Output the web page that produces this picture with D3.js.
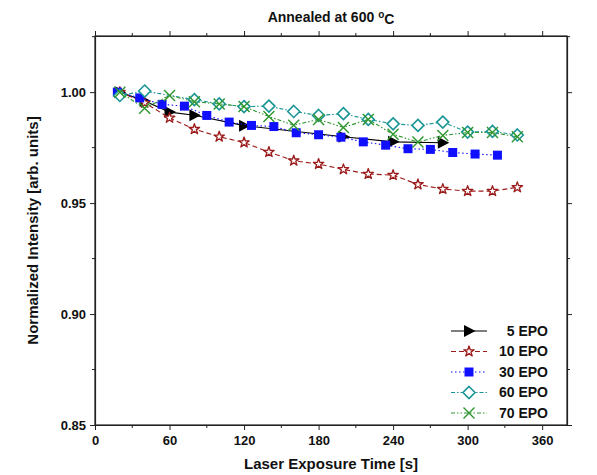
<!DOCTYPE html>
<html>
<head>
<meta charset="utf-8">
<script src="https://cdn.jsdelivr.net/npm/d3@7"></script>
<style>
  body { margin: 0; background: #fff; }
  text { font-family: Arial, "Liberation Sans", sans-serif; font-weight: bold; fill: #111; }
</style>
</head>
<body>
<div id="chart"></div>
<script>
// data
var t5 = [20, 40, 60, 80, 120, 200, 240, 280];
var v5 = [1.000, 0.9960, 0.9910, 0.9896, 0.9849, 0.9799, 0.9776, 0.9772];

var t10 = [20, 40, 60, 80, 100, 120, 140, 160, 180, 200, 220, 240, 260, 280, 300, 320, 340];
var v10 = [1.000, 0.9952, 0.9884, 0.9833, 0.9799, 0.9773, 0.9730, 0.9691, 0.9676, 0.9652,
           0.9631, 0.9626, 0.9584, 0.9563, 0.9554, 0.9554, 0.9571];

var t30 = [18, 36, 54, 72, 90, 108, 126, 144, 162, 180, 198, 216, 234, 252, 270, 288, 306, 324];
var v30 = [1.000, 0.9974, 0.9945, 0.9937, 0.9895, 0.9865, 0.9850, 0.9845, 0.9817, 0.9808,
           0.9797, 0.9776, 0.9761, 0.9745, 0.9742, 0.9728, 0.9721, 0.9716];

var t60 = [20, 40, 80, 100, 120, 140, 160, 180, 200, 220, 240, 260, 280, 300, 320, 340];
var v60 = [0.9985, 1.0005, 0.9966, 0.9947, 0.9935, 0.9937, 0.9913, 0.9895, 0.9903, 0.9877,
           0.9857, 0.9850, 0.9865, 0.9820, 0.9823, 0.9807];

var t70 = [20, 40, 60, 80, 100, 120, 140, 160, 180, 200, 220, 240, 260, 280, 300, 320, 340];
var v70 = [1.000, 0.9927, 0.9985, 0.9957, 0.9947, 0.9935, 0.9890, 0.9851, 0.9877, 0.9841,
           0.9877, 0.9810, 0.9775, 0.9805, 0.9818, 0.9818, 0.9799];

var seriesNames = ["5 EPO", "10 EPO", "30 EPO", "60 EPO", "70 EPO"];
var xTicks = [0, 60, 120, 180, 240, 300, 360];
var yTicks = [0.85, 0.90, 0.95, 1.00];

var width = 597, height = 475;
var margin = { left: 95, right: 30, top: 36, bottom: 50 };
var figw = width - margin.left - margin.right,
    figh = height - margin.top - margin.bottom;

var xScale = d3.scaleLinear().domain([0, 380]).range([0, figw]);
var yScale = d3.scaleLinear().domain([0.85, 1.0253]).range([figh, 0]);

var styles = [
  { color: "#000000", dash: null, shape: "triangle" },
  { color: "#9b1b1b", dash: "5,3", shape: "star" },
  { color: "#1010ff", dash: "1.5,2.5", shape: "square" },
  { color: "#1a9595", dash: "4,2,1.5,2", shape: "diamond" },
  { color: "#2e962e", dash: "4,2,1.5,2,1.5,2", shape: "x" }
];

var series = [[t5, v5], [t10, v10], [t30, v30], [t60, v60], [t70, v70]].map(function(s, i) {
  return { name: seriesNames[i], style: styles[i],
           values: s[0].map(function(t, j) { return [t, s[1][j]]; }) };
});

var svg = d3.select("#chart").append("svg")
  .attr("width", width)
  .attr("height", height);

var g = svg.append("g")
  .attr("transform", "translate(" + margin.left + "," + margin.top + ")");

// frame
g.append("rect")
  .attr("width", figw).attr("height", figh)
  .attr("fill", "none").attr("stroke", "#222").attr("stroke-width", 1.2);

// axes
var minorX = d3.range(30, 381, 60);
var minorY = [0.875, 0.925, 0.975, 1.025];

function xAxis(axisFn, ty, withLabels) {
  var a = g.append("g").attr("class", "x axis").attr("transform", "translate(0," + ty + ")");
  a.call(axisFn(xScale).tickValues(xTicks).tickSize(5).tickSizeOuter(0)
        .tickFormat(withLabels ? d3.format("d") : ""));
  a.selectAll(".minor").data(minorX).enter().append("line")
    .attr("class", "minor")
    .attr("x1", xScale).attr("x2", xScale)
    .attr("y1", 0).attr("y2", axisFn === d3.axisBottom ? 3 : -3)
    .attr("stroke", "#222");
  return a;
}

function yAxis(axisFn, tx, withLabels) {
  var a = g.append("g").attr("class", "y axis").attr("transform", "translate(" + tx + ",0)");
  a.call(axisFn(yScale).tickValues(yTicks).tickSize(5).tickSizeOuter(0)
        .tickFormat(withLabels ? d3.format(".2f") : ""));
  a.selectAll(".minor").data(minorY).enter().append("line")
    .attr("class", "minor")
    .attr("y1", yScale).attr("y2", yScale)
    .attr("x1", 0).attr("x2", axisFn === d3.axisLeft ? -3 : 3)
    .attr("stroke", "#222");
  return a;
}

var xb = xAxis(d3.axisBottom, figh, true);
xAxis(d3.axisTop, 0, false);
var yl = yAxis(d3.axisLeft, 0, true);
yAxis(d3.axisRight, figw, false);

g.selectAll(".axis path").attr("stroke", "#222").attr("stroke-width", 1.2);
g.selectAll(".axis .tick line").attr("stroke", "#222");
xb.selectAll("text").style("font-size", "13px").attr("dy", "0.95em");
yl.selectAll("text").style("font-size", "13px").attr("x", -9);

// symbols
function symbolPath(shape) {
  if (shape === "triangle") return "M-5,-6L6.5,0L-5,6Z";
  if (shape === "square") return "M-4.5,-4.5H4.5V4.5H-4.5Z";
  if (shape === "diamond") return "M0,-6L6,0L0,6L-6,0Z";
  if (shape === "x") return "M-5.5,-5.5L5.5,5.5M-5.5,5.5L5.5,-5.5";
  return d3.symbol().type(d3.symbolStar).size(34)();
}

function drawMarker(sel, style) {
  var p = sel.append("path").attr("d", symbolPath(style.shape));
  if (style.shape === "triangle" || style.shape === "square") {
    p.attr("fill", style.color).attr("stroke", "none");
  } else if (style.shape === "x") {
    p.attr("fill", "none").attr("stroke", style.color).attr("stroke-width", 1.4);
  } else if (style.shape === "star") {
    p.attr("fill", "#fff").attr("stroke", style.color).attr("stroke-width", 1.3)
      .attr("stroke-linejoin", "round");
  } else {
    p.attr("fill", "#fff").attr("stroke", style.color).attr("stroke-width", 1.6);
  }
}

var line = d3.line()
  .x(function(d) { return xScale(d[0]); })
  .y(function(d) { return yScale(d[1]); });

series.forEach(function(s) {
  var sg = g.append("g").attr("class", "series");
  sg.append("path")
    .datum(s.values)
    .attr("d", line)
    .attr("fill", "none")
    .attr("stroke", s.style.color)
    .attr("stroke-width", 1.1)
    .attr("stroke-dasharray", s.style.dash);
  sg.selectAll(".pt").data(s.values).enter().append("g")
    .attr("class", "pt")
    .attr("transform", function(d) { return "translate(" + xScale(d[0]) + "," + yScale(d[1]) + ")"; })
    .each(function() { drawMarker(d3.select(this), s.style); });
});

// legend
var legend = g.append("g").attr("transform", "translate(" + (451 - margin.left) + "," + (331 - margin.top) + ")");
series.forEach(function(s, i) {
  var row = legend.append("g").attr("transform", "translate(0," + (i * 20.5) + ")");
  row.append("line")
    .attr("x1", 0).attr("x2", 36).attr("y1", 0).attr("y2", 0)
    .attr("stroke", s.style.color).attr("stroke-width", 1.1)
    .attr("stroke-dasharray", s.style.dash);
  var m = row.append("g").attr("transform", "translate(18,0)");
  drawMarker(m, s.style);
  row.append("text")
    .attr("x", 97).attr("y", 0).attr("dy", "0.35em")
    .attr("text-anchor", "end")
    .style("font-size", "14px")
    .text(s.name);
});

// titles
var title = svg.append("text")
  .attr("x", margin.left + figw / 2).attr("y", 22)
  .attr("text-anchor", "middle")
  .style("font-size", "14px");
title.append("tspan").text("Annealed at 600 ");
title.append("tspan").attr("dy", "-0.45em").style("font-size", "10px").text("o");
title.append("tspan").attr("dy", "0.45em").text("C");

svg.append("text")
  .attr("x", margin.left + figw / 2).attr("y", 469)
  .attr("text-anchor", "middle")
  .style("font-size", "15px")
  .text("Laser Exposure Time [s]");

svg.append("text")
  .attr("transform", "translate(38," + (margin.top + figh / 2) + ") rotate(-90)")
  .attr("text-anchor", "middle")
  .style("font-size", "15px")
  .text("Normalized Intensity [arb. units]");
</script>
</body>
</html>
